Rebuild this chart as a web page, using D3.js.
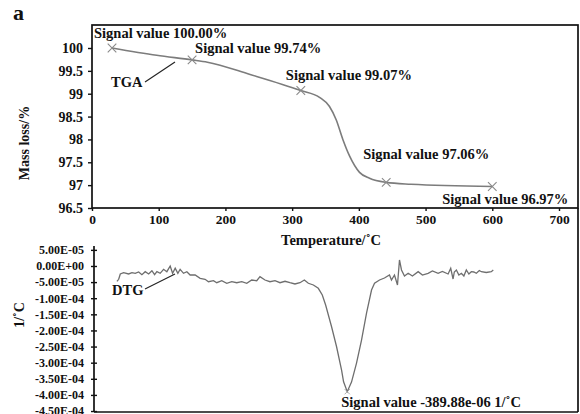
<!DOCTYPE html>
<html><head><meta charset="utf-8">
<script src="https://cdn.jsdelivr.net/npm/d3@7"></script>
<style>
body{margin:0;background:#fff;}
text{font-family:"Liberation Serif","Times New Roman",serif;font-weight:bold;fill:#111;}
</style></head>
<body><svg id="c" width="580" height="414"></svg>
<script>
// ---- data ----
const xTicks = [0,100,200,300,400,500,600,700];
const tgaYTicks = [96.5,97,97.5,98,98.5,99,99.5,100];
const tgaT = [30,97,150,173,237,313,341,356,366,376,386,401,416,441,478,600];
const tgaV = [100.00,99.84,99.74,99.69,99.42,99.07,98.92,98.72,98.43,98.00,97.64,97.28,97.15,97.06,97.02,96.97];
const markerT = [30,150,313,441,600];
const markerV = [100.00,99.74,99.07,97.06,96.97];
const markerLabels = ["Signal value 100.00%","Signal value 99.74%","Signal value 99.07%","Signal value 97.06%","Signal value 96.97%"];

const dtgT = [34.4,37.0,39.4,44.4,51.9,56.9,61.8,66.9,71.8,76.8,81.9,86.8,90.8,94.3,99.2,104.3,109.2,114.2,117.8,121.7,125.7,129.1,134.2,139.2,144.1,151.6,159.1,166.5,171.6,179.1,184.0,191.5,199.0,206.5,214.0,221.5,229.0,236.4,243.9,248.8,256.3,263.8,271.3,278.8,286.3,293.7,301.2,308.7,315.3,321.3,328.8,336.2,342.2,347.2,356.1,363.6,371.1,374.1,379.6,386.0,393.5,401.0,408.5,416.0,420.5,428.0,435.4,442.9,445.9,450.4,454.9,457.9,460.9,465.4,470.9,477.3,485.9,492.3,500.8,507.3,515.8,522.2,530.8,534.7,538.2,540.1,543.2,546.9,550.7,554.4,558.1,561.9,565.6,569.3,573.1,577.6,580.6,588.0,595.5,598.5];
// DTG values in units of 1e-6 1/°C
const dtgV = [-48,-41.3,-24.8,-20.8,-24.8,-20.8,-22.7,-18.6,-27.0,-17.7,-24.8,-14.6,-27.0,-17.7,-22.7,-10.2,-17.7,0,-22.7,-7.1,-22.7,-10.2,-22.7,-17.7,-28.0,-28.0,-38.2,-41.3,-48.8,-45.7,-51.9,-45.7,-53.7,-48.8,-51.9,-48.8,-53.7,-43.5,-45.7,-33.2,-43.5,-48.8,-45.7,-51.9,-47.5,-51.9,-55.9,-51.9,-43.5,-53.7,-59.0,-69.3,-90.1,-121.1,-188.5,-250.6,-323,-359.4,-389.88,-360.3,-301.3,-229.8,-146,-74.5,-53.7,-43.5,-37.3,-28.0,-43.5,-28.0,-59,18.6,-12.4,-31.1,-22.7,-31.1,-17.7,-28.0,-22.7,-15.5,-22.7,-17.1,-24.8,-7.1,-40.4,-18.6,-12.4,-28,-22.7,-31.1,-12.4,-24.8,-17.7,-18.6,-22.7,-14,-17.7,-20.2,-17.7,-12.4];
const dtgYTicks = [5e-5,0,-5e-5,-1e-4,-1.5e-4,-2e-4,-2.5e-4,-3e-4,-3.5e-4,-4e-4,-4.5e-4];
const dtgYLabels = ["5.00E-05","0.00E+00","-5.00E-05","-1.00E-04","-1.50E-04","-2.00E-04","-2.50E-04","-3.00E-04","-3.50E-04","-4.00E-04","-4.50E-04"];
const dtgMinT = 379.6, dtgMinV = -389.88;

// ---- layout ----
const svg = d3.select("#c");
const gray = "#7c7c7c";
const x = d3.scaleLinear().domain([0,700]).range([92,559]);
const yT = d3.scaleLinear().domain([96.5,100]).range([208,48]);
const yD = d3.scaleLinear().domain([-4.53e-4,6.2e-5]).range([412,246]);
const FS = "14.5px";

// panel letter
svg.append("text").attr("x",13).attr("y",20).style("font-size","22px").text("a");

// top frame
svg.append("rect").attr("x",92).attr("y",25).attr("width",486).attr("height",183)
  .attr("fill","none").attr("stroke","#111").attr("stroke-width",1.7);

// top x axis
const gx = svg.append("g").attr("transform","translate(0,208)")
  .call(d3.axisBottom(x).tickValues(xTicks).tickSize(3).tickPadding(3).tickFormat(d3.format("d")));
gx.select(".domain").remove();
gx.selectAll("text").style("font-size","13.5px").style("font-family","Liberation Serif").style("font-weight","bold");
gx.selectAll(".tick line").attr("stroke","#111").attr("stroke-width",1.4);

// top y axis
const gy = svg.append("g").attr("transform","translate(92,0)")
  .call(d3.axisLeft(yT).tickValues(tgaYTicks).tickSize(4).tickPadding(5).tickFormat(d => d3.format("")(d)));
gy.select(".domain").remove();
gy.selectAll("text").style("font-size","14px").style("font-family","Liberation Serif").style("font-weight","bold");
gy.selectAll(".tick line").attr("stroke","#111").attr("stroke-width",1.4);

svg.append("text").attr("transform","translate(29,143) rotate(-90)").attr("text-anchor","middle")
  .style("font-size","14px").text("Mass loss/%");
svg.append("text").attr("x",331).attr("y",245).attr("text-anchor","middle")
  .style("font-size","14.5px").text("Temperature/˚C");

// TGA line
const tga = tgaT.map((t,i)=>[t,tgaV[i]]);
svg.append("path").datum(tga).attr("fill","none").attr("stroke",gray).attr("stroke-width",1.6)
  .attr("d", d3.line().x(d=>x(d[0])).y(d=>yT(d[1])).curve(d3.curveMonotoneX));
// markers
const sym = d3.symbol().type(d3.symbolTimes).size(50);
svg.selectAll(".mk").data(markerT.map((t,i)=>[t,markerV[i]])).join("path")
  .attr("transform",d=>`translate(${x(d[0])},${yT(d[1])})`).attr("d",sym)
  .attr("fill","none").attr("stroke","#8a8a8a").attr("stroke-width",1.1);
// labels
const labOff = [[-18,-10],[3,-7],[-15,-11],[-23,-23],[-50,17]];
svg.selectAll(".ml").data(markerLabels).join("text")
  .attr("x",(d,i)=>x(markerT[i])+labOff[i][0]).attr("y",(d,i)=>yT(markerV[i])+labOff[i][1])
  .style("font-size",FS).text(d=>d);
// TGA label
svg.append("text").attr("x",111).attr("y",87).style("font-size",FS).text("TGA");
svg.append("line").attr("x1",145).attr("y1",82).attr("x2",175).attr("y2",62).attr("stroke","#222").attr("stroke-width",1.1);

// bottom panel
svg.append("line").attr("x1",578).attr("x2",578).attr("y1",208).attr("y2",412).attr("stroke","#111").attr("stroke-width",1.7);
svg.append("line").attr("x1",94).attr("x2",578).attr("y1",412).attr("y2",412).attr("stroke","#111").attr("stroke-width",1.7);
const gyd = svg.append("g").attr("transform","translate(94,0)")
  .call(d3.axisLeft(yD).tickValues(dtgYTicks).tickSize(3).tickPadding(8).tickFormat((d,i)=>dtgYLabels[i]));
gyd.select(".domain").attr("stroke","#111").attr("stroke-width",1.7).attr("d",`M0,${yD.range()[1]}V${yD.range()[0]}`);
gyd.selectAll(".tick line").attr("x1",3).attr("stroke","#111").attr("stroke-width",1.4);
gyd.selectAll("text").attr("x",-10).style("font-size","12px").style("font-family","Liberation Serif").style("font-weight","bold");

svg.append("text").attr("transform","translate(24,315) rotate(-90)").attr("text-anchor","middle")
  .style("font-size","14px").text("1/˚C");

const dtg = dtgT.map((t,i)=>[t,dtgV[i]*1e-6]);
svg.append("path").datum(dtg).attr("fill","none").attr("stroke","#6e6e6e").attr("stroke-width",1.3)
  .attr("d", d3.line().x(d=>x(d[0])+2).y(d=>yD(d[1])));
svg.append("path").attr("transform",`translate(${x(dtgMinT)+2},${yD(dtgMinV*1e-6)})`).attr("d",d3.symbol().type(d3.symbolTimes).size(20))
  .attr("fill","none").attr("stroke","#999").attr("stroke-width",0.8);
svg.append("text").attr("x",x(dtgMinT)-4).attr("y",yD(dtgMinV*1e-6)+15).style("font-size",FS).text("Signal value -389.88e-06 1/˚C");
svg.append("text").attr("x",112).attr("y",295).style("font-size",FS).text("DTG");
svg.append("line").attr("x1",145).attr("y1",289).attr("x2",175).attr("y2",274).attr("stroke","#222").attr("stroke-width",1.1);
</script></body></html>
